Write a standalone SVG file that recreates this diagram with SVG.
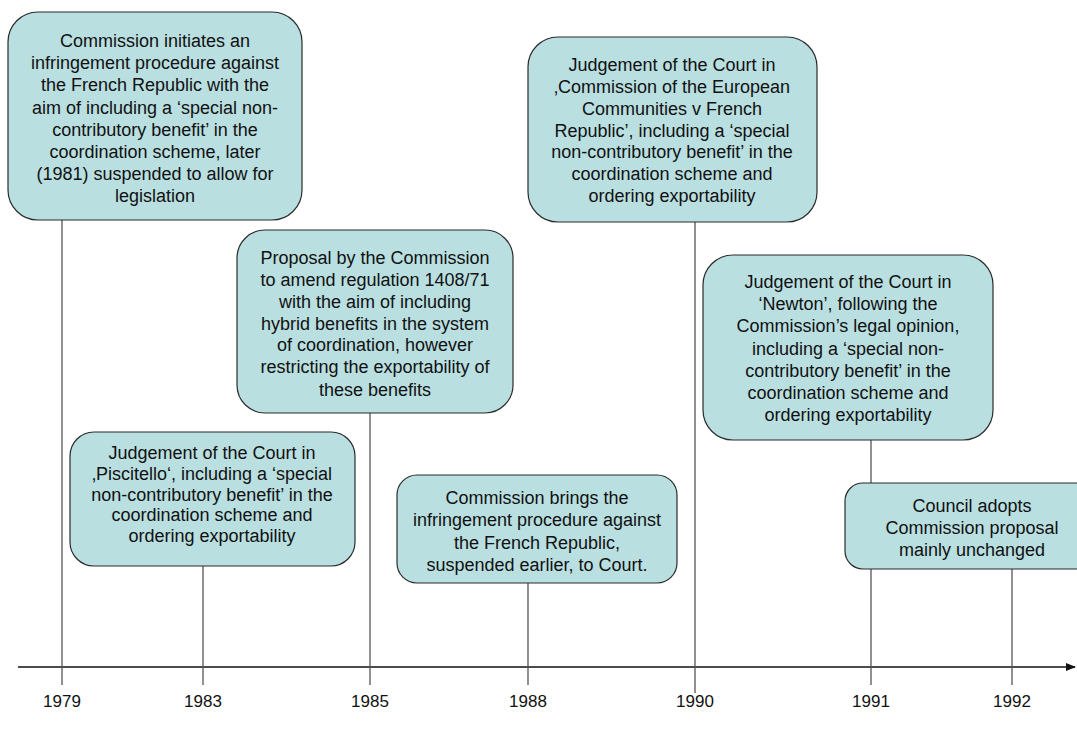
<svg xmlns="http://www.w3.org/2000/svg" width="1077" height="731" viewBox="0 0 1077 731">
<style>
.box{fill:#B9DFE1;stroke:#2b2b2b;stroke-width:1.2}
.t{font-family:"Liberation Sans",Arial,sans-serif;font-size:18px;fill:#111;text-anchor:middle}
.y{font-family:"Liberation Sans",Arial,sans-serif;font-size:17px;fill:#111;text-anchor:middle}
.v{stroke:#555;stroke-width:1.3;fill:none}
.ax{stroke:#111;stroke-width:1.5;fill:none}
</style>
<defs>
<marker id="arr" markerWidth="10" markerHeight="8" refX="9" refY="4" orient="auto" markerUnits="userSpaceOnUse">
<path d="M0,0 L10,4 L0,8 Z" fill="#111"/>
</marker>
</defs>
<rect width="1077" height="731" fill="#fff"/>
<g id="connectors">
<line class="ax" x1="18" y1="667" x2="1075" y2="667" marker-end="url(#arr)"/>
<line class="v" x1="62" y1="220" x2="62" y2="685"/>
<line class="v" x1="203" y1="566" x2="203" y2="685"/>
<line class="v" x1="370" y1="413" x2="370" y2="685"/>
<line class="v" x1="528" y1="583" x2="528" y2="685"/>
<line class="v" x1="695" y1="222" x2="695" y2="693"/>
<line class="v" x1="871" y1="440" x2="871" y2="685"/>
<line class="v" x1="1012" y1="569" x2="1012" y2="685"/>
</g>
<g id="years">
<text class="y" x="62" y="707">1979</text>
<text class="y" x="203" y="707">1983</text>
<text class="y" x="370" y="707">1985</text>
<text class="y" x="528" y="707">1988</text>
<text class="y" x="695" y="707">1990</text>
<text class="y" x="871" y="707">1991</text>
<text class="y" x="1012" y="707">1992</text>
</g>
<g id="n1979">
<rect class="box" x="8" y="12" width="294" height="208" rx="30"/>
<text class="t" x="155" y="47">Commission initiates an</text>
<text class="t" x="155" y="69">infringement procedure against</text>
<text class="t" x="155" y="91">the French Republic with the</text>
<text class="t" x="155" y="114">aim of including a ‘special non-</text>
<text class="t" x="155" y="136">contributory benefit’ in the</text>
<text class="t" x="155" y="158">coordination scheme, later</text>
<text class="t" x="155" y="180">(1981) suspended to allow for</text>
<text class="t" x="155" y="202">legislation</text>
</g>
<g id="n1990a">
<rect class="box" x="528" y="37" width="289" height="185" rx="30"/>
<text class="t" x="672" y="71">Judgement of the Court in</text>
<text class="t" x="672" y="93">‚Commission of the European</text>
<text class="t" x="672" y="115">Communities v French</text>
<text class="t" x="672" y="137">Republic’, including a ‘special</text>
<text class="t" x="672" y="158">non-contributory benefit’ in the</text>
<text class="t" x="672" y="180">coordination scheme and</text>
<text class="t" x="672" y="202">ordering exportability</text>
</g>
<g id="n1985">
<rect class="box" x="237" y="230" width="276" height="183" rx="28"/>
<text class="t" x="375" y="264">Proposal by the Commission</text>
<text class="t" x="375" y="286">to amend regulation 1408/71</text>
<text class="t" x="375" y="308">with the aim of including</text>
<text class="t" x="375" y="330">hybrid benefits in the system</text>
<text class="t" x="375" y="351">of coordination, however</text>
<text class="t" x="375" y="373">restricting the exportability of</text>
<text class="t" x="375" y="396">these benefits</text>
</g>
<g id="n1991a">
<rect class="box" x="703" y="255" width="290" height="185" rx="30"/>
<text class="t" x="848" y="288">Judgement of the Court in</text>
<text class="t" x="848" y="310">‘Newton’, following the</text>
<text class="t" x="848" y="332">Commission’s legal opinion,</text>
<text class="t" x="848" y="355">including a ‘special non-</text>
<text class="t" x="848" y="377">contributory benefit’ in the</text>
<text class="t" x="848" y="399">coordination scheme and</text>
<text class="t" x="848" y="421">ordering exportability</text>
</g>
<g id="n1983">
<rect class="box" x="70" y="432" width="285" height="134" rx="24"/>
<text class="t" x="212" y="459">Judgement of the Court in</text>
<text class="t" x="212" y="480">‚Piscitello‘, including a ‘special</text>
<text class="t" x="212" y="501">non-contributory benefit’ in the</text>
<text class="t" x="212" y="521">coordination scheme and</text>
<text class="t" x="212" y="542">ordering exportability</text>
</g>
<g id="n1988">
<rect class="box" x="397" y="475" width="280" height="108" rx="20"/>
<text class="t" x="537" y="504">Commission brings the</text>
<text class="t" x="537" y="526">infringement procedure against</text>
<text class="t" x="537" y="549">the French Republic,</text>
<text class="t" x="537" y="571">suspended earlier, to Court.</text>
</g>
<g id="n1992">
<rect class="box" x="845" y="483" width="254" height="86" rx="18"/>
<text class="t" x="972" y="512">Council adopts</text>
<text class="t" x="972" y="534">Commission proposal</text>
<text class="t" x="972" y="556">mainly unchanged</text>
</g>
</svg>
